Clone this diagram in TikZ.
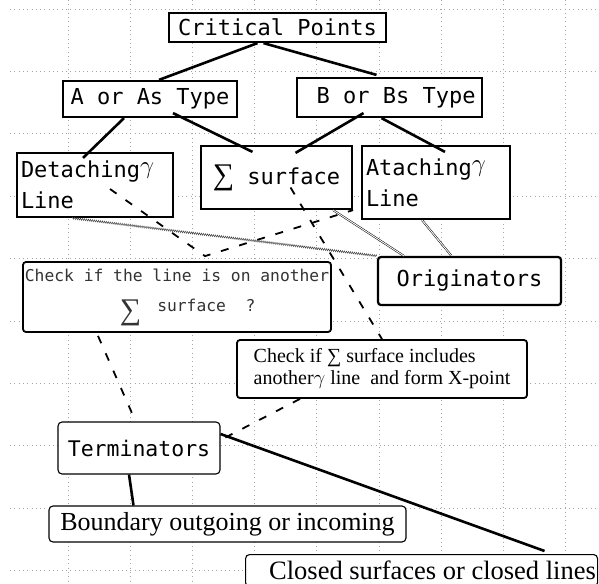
\documentclass[tikz,border=0pt]{standalone}
\usepackage{fontspec}
\setmainfont{Liberation Serif}
\newfontfamily\gothic{DejaVu Sans Mono}
\usetikzlibrary{decorations.pathmorphing}

\newcommand\bigsum{{\rmfamily\fontsize{30}{30}\selectfont ∑}}
\newcommand\gam{\raisebox{4pt}{\fontsize{36}{36}\selectfont$\gamma$}}

\begin{document}
\begin{tikzpicture}[x=1pt,y=-1pt,
    box/.style={draw, line width=2.2pt, fill=white, inner sep=0pt,
      font=\gothic\fontsize{22}{31}\selectfont},
    rbox/.style={draw, line width=1.8pt, rounded corners=3pt, fill=white, inner sep=0pt},
    tbox/.style={draw, line width=1.1pt, rounded corners=4pt, fill=white, inner sep=0pt}]
\tikzset{tree/.style = {line width=2.6pt}}
\tikzset{dashline/.style = {line width=1.8pt, dash pattern=on 8pt off 11pt}}
\tikzset{hatch/.style = {black!75, line width=0.45pt, decorate,
    decoration={zigzag, amplitude=1pt, segment length=2pt}}}
\tikzset{twin/.style = {double, double distance=0.9pt, line width=0.5pt}}
\tikzset{gridline/.style = {gray!70, line width=0.9pt, dash pattern=on 0.9pt off 3.4pt}}
\useasboundingbox (0,0) rectangle (599,583);
\fill[white] (0,0) rectangle (599,583);
% grid
\foreach \y in {0,...,9} \draw[gridline] (10,9+62.4*\y) -- (599,9+62.4*\y);
\foreach \x in {0,...,8} \draw[gridline] (68+62.2*\x,0) -- (68+62.2*\x,583);
% boxes
\node[box, minimum width=217pt, minimum height=29pt] (crit) at (277.5,27.5) {Critical Points};
\node[box, minimum width=174pt, minimum height=36pt] (aas) at (150,99) {A or As Type};
\node[box, minimum width=185pt, minimum height=39pt] (bbs) at (389.5,97.5) {\ B or Bs Type};
\node[box, text width=148pt, inner xsep=4pt, align=left, minimum height=64pt] (det) at (95,185) {Detaching\gam\\Line};
\node[box, minimum width=151pt, minimum height=63pt] (sig) at (276.5,177.5) {\bigsum\ surface};
\node[box, text width=140pt, inner xsep=4pt, align=left, minimum height=73pt] (ata) at (436,182.5) {Ataching\gam\\Line};
\node[rbox, line width=2.2pt, minimum width=183pt, minimum height=48pt,
  font=\gothic\fontsize{22}{26}\selectfont] (orig) at (469.5,281) {Originators};
\node[rbox, align=left, minimum width=308pt, minimum height=70pt, text=black!80,
  font=\gothic\fontsize{16.3}{30}\selectfont] (chkl) at (177,297)
  {Check if the line is on another\\\hspace*{95pt}\raisebox{-8pt}{\bigsum}\hspace{16pt}surface\ \ ?};
\node[rbox, align=left, minimum width=290pt, minimum height=58pt,
  font=\fontsize{20}{22}\selectfont] (chks) at (382,369)
  {Check if ∑ surface includes\\another$\gamma$ line\ \ and form X-point};
\node[tbox, minimum width=162pt, minimum height=52pt,
  font=\gothic\fontsize{21.5}{26}\selectfont] (term) at (139,448) {Terminators};
\node[tbox, minimum width=357pt, minimum height=36pt,
  font=\fontsize{26}{30}\selectfont] (bnd) at (227.5,524) {Boundary outgoing or incoming};
\node[tbox, minimum width=352pt, minimum height=32pt, anchor=north west,
  font=\fontsize{26.5}{30}\selectfont] (cls) at (245,554) {\hspace*{22pt}Closed surfaces or closed lines};
% tree
\draw[tree] ([xshift=-20pt]crit.south) -- ([xshift=9pt]aas.north);
\draw[tree] ([xshift=-14pt]crit.south) -- ([xshift=-13pt,yshift=2pt]bbs.north);
\draw[tree] ([xshift=-26pt]aas.south) -- ([xshift=-12pt,yshift=-6pt]det.north);
\draw[tree] ([xshift=23pt,yshift=5pt]aas.south) -- ([xshift=-24pt,yshift=-7pt]sig.north);
\draw[tree] ([xshift=-26pt,yshift=5pt]bbs.south) -- ([xshift=19pt,yshift=-8pt]sig.north);
\draw[tree] ([xshift=-8pt]bbs.south) -- ([xshift=9pt,yshift=-7pt]ata.north);
% checks
\coordinate (v) at ([xshift=28pt,yshift=5pt]chkl.north);
\draw[dashline] ([xshift=15pt,yshift=-4pt]det.center) -- (v) -- (sig.south east);
\draw[dashline] ([xshift=14pt,yshift=-10pt]sig.center) -- (chks.north);
\draw[dashline] ([xshift=-79pt,yshift=-3pt]chkl.south) -- ([xshift=-6pt,yshift=6pt]term.north);
\draw[dashline] ([xshift=-82pt]chks.south) -- ([yshift=8pt]term.east);
% originators
\draw[hatch] ([xshift=-23pt]det.south) -- (orig.north west);
\draw[twin] ([xshift=-20pt]sig.south east) -- ([xshift=27pt]orig.north west);
\draw[twin] ([xshift=-14pt]ata.south) -- ([xshift=-18pt]orig.north);
% terminators
\draw[tree] ([yshift=14pt]term.east) -- ([xshift=123pt,yshift=3pt]cls.north);
\draw[tree] ([xshift=-10pt]term.south) -- ([xshift=-94pt]bnd.north);
\end{tikzpicture}
\end{document}
